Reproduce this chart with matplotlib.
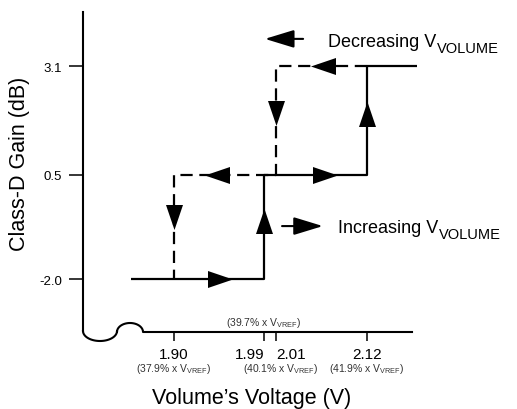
import numpy as np
import matplotlib
matplotlib.use('Agg')
import matplotlib.pyplot as plt

plt.rcParams['font.family'] = ['Liberation Sans', 'DejaVu Sans']
plt.rcParams['mathtext.fontset'] = 'custom'
plt.rcParams['mathtext.rm'] = 'Liberation Sans'
plt.rcParams['mathtext.it'] = 'Liberation Sans'

# thresholds (V) and gain steps (dB)
thresholds = [1.90, 1.99, 2.01, 2.12]
tick_labels = ['1.90', '1.99', '2.01', '2.12']
pct_labels = ['(37.9% x V$_{\\mathrm{VREF}}$)', '(39.7% x V$_{\\mathrm{VREF}}$)',
              '(40.1% x V$_{\\mathrm{VREF}}$)', '(41.9% x V$_{\\mathrm{VREF}}$)']
gains = [-2.0, 0.5, 3.1]

# increasing volume path (solid)
inc_v = [1.857, 1.99, 1.99, 2.12, 2.12, 2.18]
inc_g = [-2.0, -2.0, 0.5, 0.5, 3.1, 3.1]
# decreasing volume path (dashed)
dec_v = [2.12, 2.01, 2.01, 1.90, 1.90]
dec_g = [3.1, 3.1, 0.5, 0.5, -2.0]

# schematic x axis: thresholds are not drawn to scale
kv = [0.9, 1.90, 1.99, 2.01, 2.12, 3.12]
kp = [-826, 174, 264, 276, 367, 1194]

def fwd(v):
    return np.interp(v, kv, kp)

def inv(p):
    return np.interp(p, kp, kv)

fig = plt.figure(figsize=(5.17, 4.10), dpi=100)
ax = fig.add_axes([83 / 517, 1 - 333 / 410, 329 / 517, 320 / 410])
ax.set_xscale('function', functions=(fwd, inv))
ax.set_xlim(inv(83), inv(412))
ax.set_ylim(-3.269, 4.393)
ax.patch.set_visible(False)
for s in ax.spines.values():
    s.set_visible(False)

lw = 1.6
ax.plot(inc_v, inc_g, color='black', lw=lw, solid_capstyle='butt', clip_on=False)
ax.plot(dec_v, dec_g, color='black', lw=lw, ls=(0, (5.5, 3)), clip_on=False)

# arrow heads on the paths
right = [(1, 0), (-1, 0.68), (-1, -0.68)]
left = [(-1, 0), (1, 0.68), (1, -0.68)]
up = [(0, 1), (0.68, -1), (-0.68, -1)]
down = [(0, -1), (0.68, 1), (-0.68, 1)]
arrows = [(1.946, -2.0, right), (1.99, -0.611, up), (2.069, 0.5, right), (2.12, 1.951, up),
          (2.067, 3.1, left), (2.01, 1.975, down), (1.943, 0.5, left), (1.90, -0.515, down)]
for x, y, m in arrows:
    ax.plot([x], [y], marker=m, ms=18, color='black', mew=0, clip_on=False)

# axis lines with break
ax.plot([0, 0], [0.003, 1], transform=ax.transAxes, color='black', lw=1.5, clip_on=False)
t1 = np.linspace(np.pi, 2 * np.pi, 40)
t2 = np.linspace(np.pi, 0, 40)
bx = np.concatenate([100 + 17 * np.cos(t1), 130 + 13 * np.cos(t2), [412]])
by = np.concatenate([332 - 10 * np.sin(t1), 333 - 9 * np.sin(t2), [333]])
ax.plot((bx - 83) / 329, (333 - by) / 320, transform=ax.transAxes,
        color='black', lw=1.5, clip_on=False)

ax.set_yticks(gains)
ax.set_yticklabels(['-2.0', '0.5', '3.1'], fontsize=9.5)
ax.tick_params(axis='y', length=10, width=1.1, pad=5, direction='out')
ax.set_xticks(thresholds)
ax.set_xticklabels(tick_labels, fontsize=11)
ax.tick_params(axis='x', length=6.5, width=1.1, pad=4, direction='out')
xl = ax.get_xticklabels()
xl[1].set_ha('right')
xl[2].set_ha('left')

# percentage notes
sub = dict(fontsize=7.5, color='#333333', ha='center', va='baseline')
ax.text(1.90, -0.122, pct_labels[0], transform=ax.get_xaxis_transform(), **sub)
ax.text(1.99, 0.023, pct_labels[1], transform=ax.get_xaxis_transform(), **sub)
ax.text(inv(281), -0.122, pct_labels[2], transform=ax.get_xaxis_transform(), **sub)
ax.text(2.12, -0.122, pct_labels[3], transform=ax.get_xaxis_transform(), **sub)

# direction legend
hd = dict(arrowstyle='-|>,head_length=18,head_width=5.5', mutation_scale=1,
          color='black', lw=1.5, shrinkA=0, shrinkB=0)
ax.annotate('', xy=(0.553, 0.916), xytext=(0.669, 0.916), xycoords='axes fraction',
            arrowprops=hd, annotation_clip=False)
t = ax.text(0.745, 0.894, 'Decreasing V', transform=ax.transAxes, fontsize=13, va='baseline')
ax.annotate('VOLUME', xy=(1, 0), xycoords=t, xytext=(0.3, -1.2), textcoords='offset points',
            fontsize=10.5, va='baseline', annotation_clip=False)
ax.annotate('', xy=(0.729, 0.331), xytext=(0.605, 0.331), xycoords='axes fraction',
            arrowprops=hd, annotation_clip=False)
t = ax.text(0.775, 0.3125, 'Increasing V', transform=ax.transAxes, fontsize=13, va='baseline')
ax.annotate('VOLUME', xy=(1, 0), xycoords=t, xytext=(0.3, -1.2), textcoords='offset points',
            fontsize=10.5, va='baseline', annotation_clip=False)

fig.text(20 / 517, 1 - 164 / 410, 'Class-D Gain (dB)', rotation=90,
         ha='center', va='center', fontsize=15.5)
fig.text(252 / 517, 1 / 410, 'Volume\u2019s Voltage (V)', ha='center', va='bottom',
         fontsize=15.5)

fig.savefig('out.png', dpi=100)
